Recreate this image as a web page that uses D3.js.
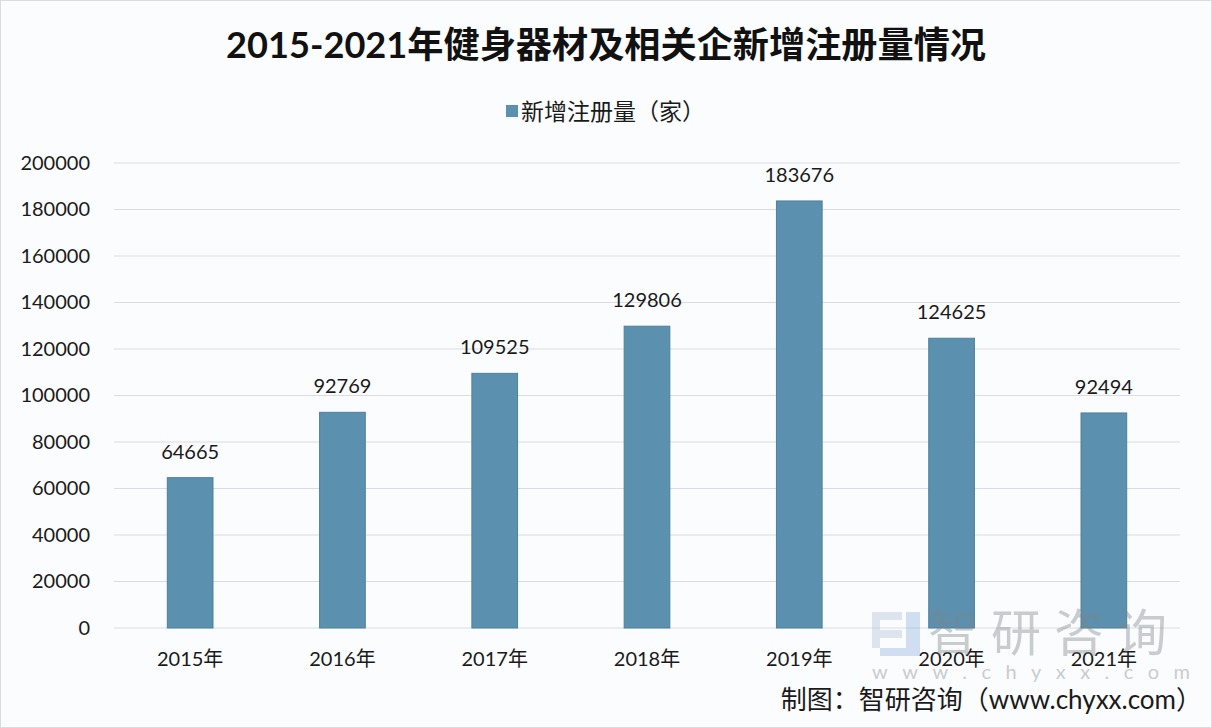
<!DOCTYPE html>
<html>
<head>
<meta charset="utf-8">
<script src="https://cdn.jsdelivr.net/npm/d3@7"></script>
<style>
  body { margin: 0; background: #fbfcfd; }
  svg text { font-family: Lato, "Noto Sans CJK SC", sans-serif; }
</style>
</head>
<body>
<svg id="chart" width="1212" height="728"></svg>
<script>
// chart data
var years = ["2015年", "2016年", "2017年", "2018年", "2019年", "2020年", "2021年"];
var registrations = [64665, 92769, 109525, 129806, 183676, 124625, 92494];
var yTicks = [0, 20000, 40000, 60000, 80000, 100000, 120000, 140000, 160000, 180000, 200000];

var svg = d3.select("#chart");
var margin = { left: 114, right: 32, top: 163, bottom: 100 };
var width = 1212, height = 728;

svg.append("rect").attr("x", 0.5).attr("y", 0.5)
  .attr("width", width - 1).attr("height", height - 1)
  .attr("fill", "#fbfcfd").attr("stroke", "#d8dde2");

var x = d3.scaleBand().domain(years)
  .range([margin.left, width - margin.right]).paddingInner(0.7).paddingOuter(0.35);
var y = d3.scaleLinear().domain([0, 200000]).range([height - margin.bottom, margin.top]);

// gridlines
svg.append("g").selectAll("line").data(yTicks).join("line")
  .attr("x1", margin.left).attr("x2", width - margin.right)
  .attr("y1", function (d) { return y(d); }).attr("y2", function (d) { return y(d); })
  .attr("stroke", "#d9dde3").attr("stroke-width", 1.2);

// y axis labels
var yAxis = svg.append("g").attr("transform", "translate(" + (margin.left - 24) + ",0)")
  .call(d3.axisLeft(y).tickValues(yTicks).tickSize(0).tickPadding(0).tickFormat(d3.format("d")));
yAxis.select(".domain").remove();
yAxis.selectAll("text").attr("font-size", 20).attr("fill", "#1a1a1a")
  .style("font-family", "Lato, sans-serif");

// x axis labels
var xAxis = svg.append("g").attr("transform", "translate(0," + (height - margin.bottom) + ")")
  .call(d3.axisBottom(x).tickSize(0).tickPadding(24));
xAxis.select(".domain").remove();
xAxis.selectAll("text").attr("font-size", 20).attr("fill", "#1a1a1a");

// bars
svg.append("g").selectAll("rect").data(registrations).join("rect")
  .attr("x", function (d, i) { return x(years[i]); })
  .attr("y", function (d) { return y(d); })
  .attr("width", x.bandwidth())
  .attr("height", function (d) { return y(0) - y(d); })
  .attr("fill", "#5b90ae").attr("stroke", "#4c819f").attr("stroke-width", 1);

// value labels
svg.append("g").selectAll("text").data(registrations).join("text")
  .attr("x", function (d, i) { return x(years[i]) + x.bandwidth() / 2; })
  .attr("y", function (d) { return y(d) - 19; })
  .attr("text-anchor", "middle").attr("font-size", 20).attr("fill", "#1a1a1a")
  .text(function (d) { return d; });

// watermark, drawn over the bars like the original
var wm = svg.append("g").attr("opacity", 0.4);
wm.append("path")
  .attr("d", "M872,612 h30 v8 h-22 v10 h22 v8 h-22 v10 h-8 z")
  .attr("fill", "#b3c1d6");
wm.append("path")
  .attr("d", "M906,612 h14 v44 h-40 v-8 h26 z")
  .attr("fill", "#8fb2e0");
wm.append("text").attr("x", 928).attr("y", 651).attr("font-size", 50)
  .attr("fill", "#7f858c").attr("letter-spacing", 13).text("智研咨询");
wm.append("text").attr("x", 872).attr("y", 679).attr("font-size", 20)
  .attr("fill", "#7f858c").attr("letter-spacing", 14.5).text("www.chyxx.com");

// title
svg.append("text").attr("x", 606).attr("y", 58).attr("text-anchor", "middle")
  .attr("font-size", 36).attr("font-weight", "bold").attr("fill", "#111")
  .attr("textLength", 760).attr("lengthAdjust", "spacingAndGlyphs")
  .text("2015-2021年健身器材及相关企新增注册量情况");

// legend
svg.append("rect").attr("x", 506).attr("y", 105).attr("width", 12).attr("height", 12)
  .attr("fill", "#5b90ae");
svg.append("text").attr("x", 521).attr("y", 120).attr("font-size", 23).attr("fill", "#1a1a1a")
  .text("新增注册量（家）");

// source
svg.append("text").attr("x", 1202).attr("y", 709).attr("text-anchor", "end")
  .attr("font-size", 26).attr("fill", "#1a1a1a")
  .text("制图：智研咨询（www.chyxx.com）");
</script>
</body>
</html>
